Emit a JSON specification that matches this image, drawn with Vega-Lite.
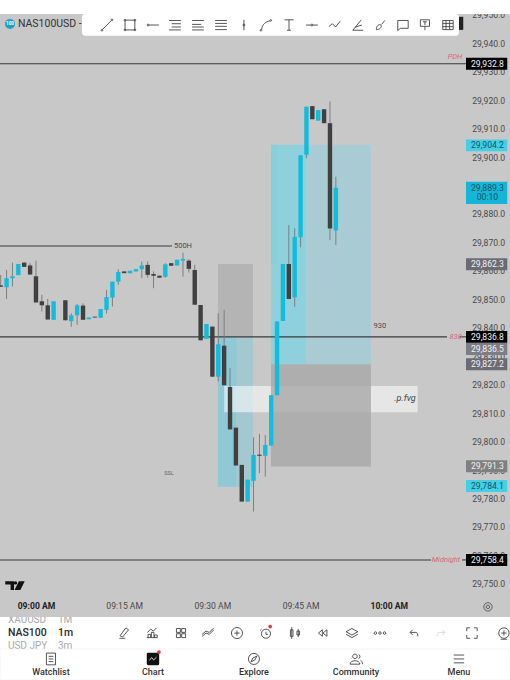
{"$schema":"https://vega.github.io/schema/vega-lite/v6.json","width":510,"height":680,"padding":0,"autosize":{"type":"none"},"background":"#c8c8c8","config":{"view":{"stroke":null},"font":"Roboto"},
"datasets":{
"zones":[
{"x":"2024-01-02T09:30:57","x2":"2024-01-02T09:36:54","y":29862.4,"y2":29836.8,"k":"gray"},
{"x":"2024-01-02T09:30:57","x2":"2024-01-02T09:34:01","y":29836.8,"y2":29784.1,"k":"tealL"},
{"x":"2024-01-02T09:34:01","x2":"2024-01-02T09:36:54","y":29836.8,"y2":29784.1,"k":"tealR"},
{"x":"2024-01-02T09:39:58","x2":"2024-01-02T09:45:55","y":29904.3,"y2":29827.2,"k":"tealB"},
{"x":"2024-01-02T09:39:58","x2":"2024-01-02T09:40:59","y":29904.3,"y2":29862.4,"k":"tealD"},
{"x":"2024-01-02T09:45:55","x2":"2024-01-02T09:56:58","y":29904.3,"y2":29827.2,"k":"tealR2"}],
"band":[{"x":"2024-01-02T09:32:01","x2":"2024-01-02T10:04:55","y":29819.5,"y2":29810.3}],
"block":[{"x":"2024-01-02T09:39:58","x2":"2024-01-02T09:56:58","y":29827.2,"y2":29791.2}],
"lines":[
{"x":"2024-01-02T08:53:53","x2":"2024-01-02T10:13:08","y":29932.8},
{"x":"2024-01-02T08:53:53","x2":"2024-01-02T10:09:54","y":29836.8},
{"x":"2024-01-02T10:12:00","x2":"2024-01-02T10:13:08","y":29836.8},
{"x":"2024-01-02T08:53:53","x2":"2024-01-02T10:07:11","y":29758.4},
{"x":"2024-01-02T10:12:27","x2":"2024-01-02T10:13:08","y":29758.4},
{"x":"2024-01-02T08:53:53","x2":"2024-01-02T09:23:08","y":29868.75}],
"candles":[
{"x":"2024-01-02T08:54:00","o":29854.9,"c":29854.4,"h":29858.6,"l":29854.4},
{"x":"2024-01-02T08:55:00","o":29854.2,"c":29857.4,"h":29860.3,"l":29850.1},
{"x":"2024-01-02T08:56:00","o":29857.4,"c":29858.1,"h":29862.9,"l":29854.5},
{"x":"2024-01-02T08:57:00","o":29858.5,"c":29862.4,"h":29862.4,"l":29858.5},
{"x":"2024-01-02T08:58:00","o":29862.9,"c":29861.4,"h":29862.9,"l":29861.4},
{"x":"2024-01-02T08:59:00","o":29861.9,"c":29858.7,"h":29862.7,"l":29858.7},
{"x":"2024-01-02T09:00:00","o":29858.1,"c":29848.9,"h":29863.6,"l":29848.9},
{"x":"2024-01-02T09:01:00","o":29849.3,"c":29847.9,"h":29851.6,"l":29845.7},
{"x":"2024-01-02T09:02:00","o":29847.9,"c":29842.9,"h":29850.1,"l":29842.9},
{"x":"2024-01-02T09:03:00","o":29842.8,"c":29849.3,"h":29849.3,"l":29842.8},
{"x":"2024-01-02T09:05:00","o":29849.7,"c":29842.6,"h":29849.7,"l":29842.6},
{"x":"2024-01-02T09:06:00","o":29842.3,"c":29844.4,"h":29845.1,"l":29840.3},
{"x":"2024-01-02T09:07:00","o":29844.4,"c":29847.9,"h":29848.4,"l":29841.0},
{"x":"2024-01-02T09:08:00","o":29847.8,"c":29842.8,"h":29848.6,"l":29842.8},
{"x":"2024-01-02T09:09:00","o":29843.0,"c":29843.6,"h":29843.6,"l":29843.0},
{"x":"2024-01-02T09:10:00","o":29843.9,"c":29843.6,"h":29843.9,"l":29843.6},
{"x":"2024-01-02T09:11:00","o":29843.5,"c":29846.6,"h":29846.6,"l":29843.5},
{"x":"2024-01-02T09:12:00","o":29846.3,"c":29850.8,"h":29853.3,"l":29845.0},
{"x":"2024-01-02T09:13:00","o":29850.6,"c":29856.2,"h":29856.2,"l":29847.5},
{"x":"2024-01-02T09:14:00","o":29856.2,"c":29859.6,"h":29860.6,"l":29855.1},
{"x":"2024-01-02T09:15:00","o":29859.8,"c":29859.2,"h":29859.8,"l":29859.2},
{"x":"2024-01-02T09:16:00","o":29859.2,"c":29860.0,"h":29860.0,"l":29859.2},
{"x":"2024-01-02T09:17:00","o":29859.8,"c":29860.6,"h":29860.6,"l":29859.8},
{"x":"2024-01-02T09:18:00","o":29860.6,"c":29861.9,"h":29863.3,"l":29857.4},
{"x":"2024-01-02T09:19:00","o":29862.1,"c":29858.6,"h":29863.3,"l":29857.6},
{"x":"2024-01-02T09:20:00","o":29858.9,"c":29858.3,"h":29859.8,"l":29853.9},
{"x":"2024-01-02T09:21:00","o":29858.3,"c":29857.6,"h":29858.3,"l":29857.6},
{"x":"2024-01-02T09:22:00","o":29857.9,"c":29862.3,"h":29862.7,"l":29857.6},
{"x":"2024-01-02T09:23:00","o":29862.7,"c":29861.8,"h":29862.7,"l":29861.8},
{"x":"2024-01-02T09:24:00","o":29861.9,"c":29863.9,"h":29863.9,"l":29861.9},
{"x":"2024-01-02T09:25:00","o":29863.6,"c":29864.2,"h":29866.4,"l":29858.0},
{"x":"2024-01-02T09:26:00","o":29863.6,"c":29860.7,"h":29864.1,"l":29859.4},
{"x":"2024-01-02T09:27:00","o":29860.3,"c":29848.1,"h":29862.1,"l":29848.1},
{"x":"2024-01-02T09:28:00","o":29848.0,"c":29835.6,"h":29848.0,"l":29835.6},
{"x":"2024-01-02T09:29:00","o":29836.1,"c":29841.3,"h":29841.3,"l":29836.1},
{"x":"2024-01-02T09:30:00","o":29840.4,"c":29822.8,"h":29840.4,"l":29822.8},
{"x":"2024-01-02T09:31:00","o":29822.8,"c":29834.2,"h":29845.1,"l":29821.1},
{"x":"2024-01-02T09:32:00","o":29833.7,"c":29819.8,"h":29846.3,"l":29819.8},
{"x":"2024-01-02T09:33:00","o":29819.2,"c":29804.3,"h":29825.8,"l":29804.1},
{"x":"2024-01-02T09:34:00","o":29804.9,"c":29791.6,"h":29804.9,"l":29791.6},
{"x":"2024-01-02T09:35:00","o":29791.8,"c":29778.9,"h":29791.8,"l":29778.9},
{"x":"2024-01-02T09:36:00","o":29778.9,"c":29786.6,"h":29786.6,"l":29778.9},
{"x":"2024-01-02T09:37:00","o":29786.2,"c":29795.3,"h":29801.5,"l":29775.4},
{"x":"2024-01-02T09:38:00","o":29795.4,"c":29795.0,"h":29802.7,"l":29788.9},
{"x":"2024-01-02T09:39:00","o":29795.0,"c":29798.8,"h":29802.3,"l":29787.7},
{"x":"2024-01-02T09:40:00","o":29798.6,"c":29816.3,"h":29816.3,"l":29798.6},
{"x":"2024-01-02T09:41:00","o":29816.3,"c":29842.2,"h":29842.2,"l":29816.3},
{"x":"2024-01-02T09:42:00","o":29842.4,"c":29862.4,"h":29862.4,"l":29842.4},
{"x":"2024-01-02T09:43:00","o":29862.4,"c":29850.1,"h":29876.1,"l":29850.1},
{"x":"2024-01-02T09:44:00","o":29850.7,"c":29871.9,"h":29875.0,"l":29847.4},
{"x":"2024-01-02T09:45:00","o":29871.8,"c":29900.6,"h":29900.6,"l":29868.3},
{"x":"2024-01-02T09:46:00","o":29900.8,"c":29917.7,"h":29917.7,"l":29899.6},
{"x":"2024-01-02T09:47:00","o":29917.9,"c":29913.3,"h":29917.9,"l":29913.3},
{"x":"2024-01-02T09:48:00","o":29912.8,"c":29916.5,"h":29916.5,"l":29912.8},
{"x":"2024-01-02T09:49:00","o":29916.8,"c":29911.9,"h":29916.8,"l":29911.9},
{"x":"2024-01-02T09:50:00","o":29911.9,"c":29874.9,"h":29919.5,"l":29870.9},
{"x":"2024-01-02T09:51:00","o":29874.2,"c":29889.2,"h":29893.1,"l":29869.1}],
"notes":[
{"x":"2024-01-02T09:25:00","y":29868.75,"t":"500H"},
{"x":"2024-01-02T09:58:30","y":29840.6,"t":"930"}],
"ssl":[{"x":"2024-01-02T09:22:37","y":29789.0,"t":"SSL"}],
"pink":[
{"x":"2024-01-02T10:11:15","y":29935.2,"t":"PDH"},
{"x":"2024-01-02T10:11:22","y":29836.9,"t":"830"},
{"x":"2024-01-02T10:09:44","y":29758.4,"t":"Midnight"}],
"fvg":[{"x":"2024-01-02T10:02:45","y":29815.2,"t":".p.fvg"}],
"boxes":[
{"x":"2024-01-02T10:13:08","x2":"2024-01-02T10:20:09","y":29934.9,"y2":29930.7,"k":"black"},
{"x":"2024-01-02T10:13:08","x2":"2024-01-02T10:20:09","y":29906.2,"y2":29902.0,"k":"teal1"},
{"x":"2024-01-02T10:13:08","x2":"2024-01-02T10:20:09","y":29891.35,"y2":29883.5,"k":"teal2"},
{"x":"2024-01-02T10:13:08","x2":"2024-01-02T10:20:09","y":29864.4,"y2":29860.2,"k":"gray1"},
{"x":"2024-01-02T10:13:08","x2":"2024-01-02T10:20:09","y":29834.65,"y2":29830.45,"k":"gray2"},
{"x":"2024-01-02T10:13:08","x2":"2024-01-02T10:20:09","y":29829.3,"y2":29825.1,"k":"gray1"},
{"x":"2024-01-02T10:13:08","x2":"2024-01-02T10:20:09","y":29793.4,"y2":29789.2,"k":"gray3"},
{"x":"2024-01-02T10:13:08","x2":"2024-01-02T10:20:09","y":29786.5,"y2":29782.3,"k":"teal1"},
{"x":"2024-01-02T10:13:08","x2":"2024-01-02T10:20:09","y":29838.9,"y2":29834.7,"k":"black"},
{"x":"2024-01-02T10:13:08","x2":"2024-01-02T10:20:09","y":29760.5,"y2":29756.3,"k":"black"}],
"boxText":[
{"x":"2024-01-02T10:16:47","y":29932.8,"t":"29,932.8","k":"light"},
{"x":"2024-01-02T10:16:47","y":29904.1,"t":"29,904.2","k":"dark"},
{"x":"2024-01-02T10:16:47","y":29889.0,"t":"29,889.3","k":"dark"},
{"x":"2024-01-02T10:16:47","y":29885.9,"t":"00:10","k":"dark"},
{"x":"2024-01-02T10:16:47","y":29862.3,"t":"29,862.3","k":"light"},
{"x":"2024-01-02T10:16:47","y":29836.8,"t":"29,836.8","k":"light"},
{"x":"2024-01-02T10:16:47","y":29832.55,"t":"29,836.5","k":"light"},
{"x":"2024-01-02T10:16:47","y":29827.2,"t":"29,827.2","k":"light"},
{"x":"2024-01-02T10:16:47","y":29791.3,"t":"29,791.3","k":"light"},
{"x":"2024-01-02T10:16:47","y":29784.4,"t":"29,784.1","k":"dark"},
{"x":"2024-01-02T10:16:47","y":29758.4,"t":"29,758.4","k":"light"}],
"logo":[{"x":"2024-01-02T08:56:26","y":29749.4,"k":"tv"}],
"topUi":[
{"x":"2024-01-02T08:53:53","x2":"2024-01-02T10:20:37","y":29955.2,"y2":29950.3,"k":"white"},
{"x":"2024-01-02T10:11:56","x2":"2024-01-02T10:12:40","y":29949.3,"y2":29944.7,"k":"black"}],
"bottomUi":[
{"x":"2024-01-02T08:53:53","x2":"2024-01-02T10:20:37","y":29738.35,"y2":29716.2,"k":"white"}],
"title":[{"x":"2024-01-02T08:56:56","y":29946.8,"t":"NAS100USD - 1"}],
"badge":[{"x":"2024-01-02T08:55:35","y":29946.8}],
"badgeText":[{"x":"2024-01-02T08:55:35","y":29946.8,"t":"100"}],
"toolbar":[{"x":"2024-01-02T09:07:49","x2":"2024-01-02T10:11:56","y":29950.3,"y2":29942.6}],
"toolIcons":[
{"x":"2024-01-02T09:12:04","y":29946.4,"k":"trend"},
{"x":"2024-01-02T09:15:59","y":29946.4,"k":"rect"},
{"x":"2024-01-02T09:19:54","y":29946.4,"k":"ray"},
{"x":"2024-01-02T09:23:38","y":29946.4,"k":"fib"},
{"x":"2024-01-02T09:27:33","y":29946.4,"k":"fib2"},
{"x":"2024-01-02T09:31:28","y":29946.4,"k":"lines"},
{"x":"2024-01-02T09:35:22","y":29946.4,"k":"vline"},
{"x":"2024-01-02T09:39:07","y":29946.4,"k":"curve"},
{"x":"2024-01-02T09:43:02","y":29946.4,"k":"text"},
{"x":"2024-01-02T09:46:56","y":29946.4,"k":"cross"},
{"x":"2024-01-02T09:50:51","y":29946.4,"k":"zig"},
{"x":"2024-01-02T09:54:46","y":29946.4,"k":"brush"},
{"x":"2024-01-02T09:58:40","y":29946.4,"k":"pen"},
{"x":"2024-01-02T10:02:25","y":29946.4,"k":"comment"},
{"x":"2024-01-02T10:06:09","y":29946.4,"k":"tbox"},
{"x":"2024-01-02T10:10:04","y":29946.4,"k":"grid"},
{"x":"2024-01-02T09:14:58","y":29732.7,"k":"pencil"},
{"x":"2024-01-02T09:19:44","y":29732.7,"k":"bars"},
{"x":"2024-01-02T09:24:40","y":29732.7,"k":"tiles"},
{"x":"2024-01-02T09:29:15","y":29732.7,"k":"waves"},
{"x":"2024-01-02T09:34:11","y":29732.7,"k":"plus"},
{"x":"2024-01-02T09:39:07","y":29732.7,"k":"alarm"},
{"x":"2024-01-02T09:44:03","y":29732.7,"k":"candle"},
{"x":"2024-01-02T09:48:49","y":29732.7,"k":"rewind"},
{"x":"2024-01-02T09:53:44","y":29732.7,"k":"layers"},
{"x":"2024-01-02T09:58:30","y":29732.7,"k":"dots"},
{"x":"2024-01-02T10:04:17","y":29732.7,"k":"undo"},
{"x":"2024-01-02T10:14:09","y":29732.7,"k":"full"},
{"x":"2024-01-02T10:19:35","y":29732.7,"k":"bulb"},
{"x":"2024-01-02T09:02:33","y":29723.6,"k":"list"},
{"x":"2024-01-02T09:37:04","y":29723.6,"k":"compass"},
{"x":"2024-01-02T09:54:25","y":29723.6,"k":"people"},
{"x":"2024-01-02T10:11:56","y":29723.6,"k":"menu"}],
"faintIcons":[{"x":"2024-01-02T10:08:53","y":29732.7,"k":"redo"}],
"settings":[{"x":"2024-01-02T10:16:52","y":29741.9}],
"chartIcon":[{"x":"2024-01-02T09:19:54","y":29723.6,"k":"tile"}],
"chartWave":[{"x":"2024-01-02T09:19:54","y":29723.6,"k":"wave"}],
"redDots":[{"x":"2024-01-02T09:20:55","y":29726.0},{"x":"2024-01-02T09:39:50","y":29735.0}],
"symbols":[{"x":"2024-01-02T08:55:14","y":29732.7,"t":"NAS100"},{"x":"2024-01-02T09:03:44","y":29732.7,"t":"1m"}],
"symbolsFaint":[{"x":"2024-01-02T08:55:14","y":29737.3,"t":"XAUUSD"},{"x":"2024-01-02T09:03:44","y":29737.3,"t":"1M"},{"x":"2024-01-02T08:55:14","y":29728.2,"t":"USD JPY"},{"x":"2024-01-02T09:03:44","y":29728.2,"t":"3m"}],
"mask":[{"x":"2024-01-02T08:53:53","x2":"2024-01-02T09:10:00","y":29739.9,"y2":29738.35}],
"nav":[{"x":"2024-01-02T08:53:53","x2":"2024-01-02T10:20:37","y":29727.1,"y2":29716.2}],
"navText":[
{"x":"2024-01-02T09:02:33","y":29719.1,"t":"Watchlist"},
{"x":"2024-01-02T09:19:54","y":29719.1,"t":"Chart"},
{"x":"2024-01-02T09:37:04","y":29719.1,"t":"Explore"},
{"x":"2024-01-02T09:54:25","y":29719.1,"t":"Community"},
{"x":"2024-01-02T10:11:56","y":29719.1,"t":"Menu"}]
},
"encoding":{
"x":{"field":"x","type":"temporal","scale":{"padding":0,"nice":false,"domain":[{"year":2024,"month":1,"date":2,"hours":8,"minutes":53,"seconds":53},{"year":2024,"month":1,"date":2,"hours":10,"minutes":20,"seconds":37}]},
"axis":{"orient":"bottom","offset":-79,"values":[{"year":2024,"month":1,"date":2,"hours":9,"minutes":0},{"year":2024,"month":1,"date":2,"hours":9,"minutes":15},{"year":2024,"month":1,"date":2,"hours":9,"minutes":30},{"year":2024,"month":1,"date":2,"hours":9,"minutes":45},{"year":2024,"month":1,"date":2,"hours":10,"minutes":0}],"format":"%I:%M %p","title":null,"grid":false,"domain":false,"ticks":false,"labelPadding":0,"labelFont":"Roboto","labelFontSize":8.6,"labelColor":{"expr":"minutes(datum.value)==0?'#222222':'#4a4a4a'"},"labelFontWeight":{"expr":"minutes(datum.value)==0?'bold':'normal'"},"labelOverlap":false,"labelFlush":false,"labelBound":false,"zindex":0}},
"y":{"field":"y","type":"quantitative","scale":{"domain":[29716.2,29955.2],"zero":false,"nice":false},
"axis":{"orient":"right","offset":-38.3,"values":[29750,29760,29770,29780,29790,29800,29810,29820,29830,29840,29850,29860,29870,29880,29890,29900,29910,29920,29930,29940,29950],"format":",.1f","title":null,"grid":false,"domain":false,"ticks":false,"labelPadding":0,"labelFont":"Roboto","labelFontSize":8.6,"labelColor":"#4a4a4a","labelAlign":"left","labelOverlap":false,"labelFlush":false,"labelBound":false,"zindex":0}}
},
"resolve":{"scale":{"color":"independent","shape":"independent"}},
"layer":[
{"data":{"name":"zones"},"mark":{"type":"rect"},"encoding":{"x2":{"field":"x2"},"y2":{"field":"y2"},"color":{"field":"k","type":"nominal","legend":null,"scale":{"domain":["gray","tealL","tealR","tealB","tealD","tealR2"],"range":["#b4b4b4","#8ec9d5","#a4c8cf","#8fd0dd","#86cfdd","#a9ccd4"]}}}},
{"data":{"name":"band"},"mark":{"type":"rect","color":"#ffffff","opacity":0.55},"encoding":{"x2":{"field":"x2"},"y2":{"field":"y2"}}},
{"data":{"name":"block"},"mark":{"type":"rect","color":"#a6a6a6","opacity":0.78},"encoding":{"x2":{"field":"x2"},"y2":{"field":"y2"}}},
{"data":{"name":"lines"},"mark":{"type":"rule","color":"#3a3a3a","strokeWidth":1.1},"encoding":{"x2":{"field":"x2"}}},
{"data":{"name":"candles"},"mark":{"type":"rule","color":"#777777","strokeWidth":0.9},"encoding":{"y":{"field":"l","type":"quantitative","scale":{"domain":[29716.2,29955.2],"zero":false,"nice":false}},"y2":{"field":"h"}}},
{"data":{"name":"candles"},"mark":{"type":"bar","size":4.4,"orient":"vertical"},"encoding":{"y":{"field":"o","type":"quantitative","scale":{"domain":[29716.2,29955.2],"zero":false,"nice":false}},"y2":{"field":"c"},"color":{"condition":{"test":"datum.c>=datum.o","value":"#12bcdc"},"value":"#404040"}}},
{"data":{"name":"notes"},"mark":{"type":"text","font":"Roboto","fontSize":7.5,"color":"#4a4a4a"},"encoding":{"text":{"field":"t"}}},
{"data":{"name":"ssl"},"mark":{"type":"text","font":"Roboto","fontSize":5.5,"color":"#666666"},"encoding":{"text":{"field":"t"}}},
{"data":{"name":"pink"},"mark":{"type":"text","font":"Roboto","fontSize":7.5,"fontStyle":"italic","color":"#e0607a"},"encoding":{"text":{"field":"t"}}},
{"data":{"name":"fvg"},"mark":{"type":"text","font":"Roboto","fontSize":9,"fontStyle":"italic","color":"#444444"},"encoding":{"text":{"field":"t"}}},
{"data":{"name":"boxes"},"mark":{"type":"rect"},"encoding":{"x2":{"field":"x2"},"y2":{"field":"y2"},"color":{"field":"k","type":"nominal","legend":null,"scale":{"domain":["black","teal1","teal2","gray1","gray2","gray3"],"range":["#000000","#45cfe6","#14b6d8","#6b6b76","#7d7d88","#808080"]}}}},
{"data":{"name":"boxText"},"mark":{"type":"text","font":"Roboto","fontSize":8.6},"encoding":{"text":{"field":"t"},"color":{"field":"k","type":"nominal","legend":null,"scale":{"domain":["light","dark"],"range":["#f2f2f2","#0d5566"]}}}},
{"data":{"name":"logo"},"mark":{"type":"point","filled":true,"size":380,"opacity":1,"color":"#111111"},"encoding":{"shape":{"field":"k","type":"nominal","legend":null,"scale":{"domain":["tv"],"range":["M-1,-.45H-.1V.45H-.45V-.1H-1ZM.22,-.27A.17,.17 0 1,1 -.12,-.27A.17,.17 0 1,1 .22,-.27ZM.4,-.45H1L.55,.45H-.05Z"]}}}},
{"data":{"name":"topUi"},"mark":{"type":"rect"},"encoding":{"x2":{"field":"x2"},"y2":{"field":"y2"},"color":{"field":"k","type":"nominal","legend":null,"scale":{"domain":["white","black"],"range":["#ffffff","#222222"]}}}},
{"data":{"name":"title"},"mark":{"type":"text","font":"Roboto","fontSize":10.5,"align":"left","color":"#333333"},"encoding":{"text":{"field":"t"}}},
{"data":{"name":"badge"},"mark":{"type":"circle","size":100,"color":"#1f9fc4","opacity":1}},
{"data":{"name":"badgeText"},"mark":{"type":"text","font":"Roboto","fontSize":4.5,"fontWeight":"bold","color":"#ffffff"},"encoding":{"text":{"field":"t"}}},
{"data":{"name":"toolbar"},"mark":{"type":"rect","color":"#ffffff","cornerRadius":3},"encoding":{"x2":{"field":"x2"},"y2":{"field":"y2"}}},
{"data":{"name":"bottomUi"},"mark":{"type":"rect","color":"#ffffff"},"encoding":{"x2":{"field":"x2"},"y2":{"field":"y2"}}},
{"data":{"name":"symbolsFaint"},"mark":{"type":"text","font":"Roboto","fontSize":10,"align":"left","color":"#a8a8a8"},"encoding":{"text":{"field":"t"}}},
{"data":{"name":"mask"},"mark":{"type":"rect","color":"#c8c8c8"},"encoding":{"x2":{"field":"x2"},"y2":{"field":"y2"}}},
{"data":{"name":"nav"},"mark":{"type":"rect","color":"#ffffff","stroke":"#efefef","strokeWidth":0.6},"encoding":{"x2":{"field":"x2"},"y2":{"field":"y2"}}},
{"data":{"name":"symbols"},"mark":{"type":"text","font":"Roboto","fontSize":10.5,"fontWeight":500,"align":"left","color":"#2a2a2a"},"encoding":{"text":{"field":"t"}}},
{"data":{"name":"navText"},"mark":{"type":"text","font":"Roboto","fontSize":9,"fontWeight":500,"color":"#333333"},"encoding":{"text":{"field":"t"}}},
{"data":{"name":"toolIcons"},"mark":{"type":"point","filled":false,"size":170,"strokeWidth":0.9,"opacity":1,"color":"#444444"},"encoding":{"shape":{"field":"k","type":"nominal","legend":null,"scale":{
"domain":["trend","rect","ray","fib","fib2","lines","vline","curve","text","cross","zig","brush","pen","comment","tbox","grid","pencil","bars","tiles","waves","plus","alarm","candle","rewind","layers","dots","undo","full","bulb","list","compass","people","menu"],
"range":[
"M-.7,.7L.7,-.7M-.9,.8A.13,.13 0 1,1 -.64,.8A.13,.13 0 1,1 -.9,.8M.64,-.8A.13,.13 0 1,1 .9,-.8A.13,.13 0 1,1 .64,-.8",
"M-.75,-.75H.75V.75H-.75ZM-.9,-.75A.13,.13 0 1,1 -.64,-.75A.13,.13 0 1,1 -.9,-.75M.64,-.75A.13,.13 0 1,1 .9,-.75A.13,.13 0 1,1 .64,-.75M-.9,.75A.13,.13 0 1,1 -.64,.75A.13,.13 0 1,1 -.9,.75M.64,.75A.13,.13 0 1,1 .9,.75A.13,.13 0 1,1 .64,.75",
"M-.9,0A.15,.15 0 1,1 -.6,0A.15,.15 0 1,1 -.9,0M-.6,0H.9",
"M-.9,-.7H.9M-.5,-.2H.9M-.5,.3H.9M-.9,.75H.9",
"M-.9,-.7H.9M-.9,-.1H.5M-.9,.3H.9M-.9,.75H.9",
"M-.9,-.7H.9M-.9,-.25H.9M-.9,.2H.9M-.9,.7H.9",
"M0,-.8V.8M-.15,0A.15,.15 0 1,1 .15,0A.15,.15 0 1,1 -.15,0",
"M-.65,.7C-.65,-.1 0,-.5 .6,-.65M-.9,.8A.13,.13 0 1,1 -.64,.8A.13,.13 0 1,1 -.9,.8M.6,-.7A.13,.13 0 1,1 .86,-.7A.13,.13 0 1,1 .6,-.7",
"M-.7,-.8H.7M0,-.8V.8M-.3,.8H.3",
"M-.9,0H-.15M.15,0H.9M-.15,0A.15,.15 0 1,1 .15,0A.15,.15 0 1,1 -.15,0",
"M-.9,.2L-.4,-.2L.1,.3L.8,-.6",
"M-.8,.8L.5,-.8M-.8,.8H.8M-.4,.3L.6,0",
"M-.7,.7C-.7,.1 -.3,-.2 0,0C.2,.3 -.2,.7 -.7,.7ZM.1,-.1L.6,-.7",
"M-.8,-.7H.8V.5H-.4L-.8,.85Z",
"M-.7,-.8H.7V.2H-.7ZM-.3,-.5H.3M0,-.5V0M0,.2V.8",
"M-.8,-.7H.8V.7H-.8ZM-.8,-.25H.8M-.8,.25H.8M-.3,-.7V.7M.25,-.7V.7",
"M-.7,.8H.2M-.6,.4L.3,-.8L.7,-.5L-.2,.6Z",
"M-.8,.7H.8M-.6,.7V.2H-.2V.7M-.1,.7V-.1H.3V.7M.4,.7V.3H.8V.7M-.7,-.1L-.2,-.6L.2,-.3L.7,-.8",
"M-.7,-.7H-.1V-.1H-.7ZM.1,-.7H.7V-.1H.1ZM-.7,.1H-.1V.7H-.7ZM.1,.1H.7V.7H.1Z",
"M-.9,.5L-.3,0L.2,.2L.9,-.5M-.9,.2L-.3,-.3L.2,-.1L.9,-.8",
"M-.85,0A.85,.85 0 1,1 .85,0A.85,.85 0 1,1 -.85,0M-.4,0H.4M0,-.4V.4",
"M-.7,.1A.7,.7 0 1,1 .7,.1A.7,.7 0 1,1 -.7,.1M0,-.2V.2H.3M-.7,-.6L-.9,-.4",
"M-.5,-.9V.9M-.7,-.5H-.3V.5H-.7ZM.5,-.6V.6M.3,-.3H.7V.3H.3Z",
"M-.1,-.5L-.7,0L-.1,.5ZM.6,-.5L0,0L.6,.5Z",
"M0,-.7L.9,-.2L0,.3L-.9,-.2ZM-.9,.2L0,.7L.9,.2",
"M-.9,0A.2,.2 0 1,1 -.5,0A.2,.2 0 1,1 -.9,0M-.2,0A.2,.2 0 1,1 .2,0A.2,.2 0 1,1 -.2,0M.5,0A.2,.2 0 1,1 .9,0A.2,.2 0 1,1 .5,0",
"M-.6,-.1L-.2,-.5M-.6,-.1L-.2,.3M-.6,-.1H.3C.5,-.1 .6,.1 .6,.5",
"M-.8,-.3V-.8H-.3M.3,-.8H.8V-.3M.8,.3V.8H.3M-.3,.8H-.8V.3",
"M-.8,0A.8,.8 0 1,1 .8,0A.8,.8 0 1,1 -.8,0M-.4,0H.4M0,-.4V.4M-.5,.95H.5",
"M-.7,-.9H.7V.9H-.7ZM-.35,-.4H.35M-.35,0H.35M-.35,.4H.35",
"M-.85,0A.85,.85 0 1,1 .85,0A.85,.85 0 1,1 -.85,0M.45,-.45L-.15,-.15L-.45,.45L.15,.15Z",
"M-.5,-.4A.35,.35 0 1,1 .2,-.4A.35,.35 0 1,1 -.5,-.4M-.9,.8C-.9,.1 .6,.1 .6,.8ZM.4,-.7A.35,.35 0 0,1 .4,-.05M.7,.2C.9,.3 1,.5 1,.8",
"M-.8,-.6H.8M-.8,0H.8M-.8,.6H.8"]}}}},
{"data":{"name":"faintIcons"},"mark":{"type":"point","filled":false,"size":170,"strokeWidth":0.9,"opacity":1,"color":"#d8d8d8"},"encoding":{"shape":{"field":"k","type":"nominal","legend":null,"scale":{"domain":["redo"],"range":["M.6,-.1L.2,-.5M.6,-.1L.2,.3M.6,-.1H-.3C-.5,-.1 -.6,.1 -.6,.5"]}}}},
{"data":{"name":"settings"},"mark":{"type":"point","shape":"circle","filled":false,"size":70,"strokeWidth":0.8,"opacity":1,"color":"#444444"}},
{"data":{"name":"settings"},"mark":{"type":"point","shape":"circle","filled":false,"size":12,"strokeWidth":0.8,"opacity":1,"color":"#444444"}},
{"data":{"name":"chartIcon"},"mark":{"type":"point","filled":true,"size":190,"opacity":1,"color":"#111111"},"encoding":{"shape":{"field":"k","type":"nominal","legend":null,"scale":{"domain":["tile"],"range":["M-.7,-.9H.7Q.9,-.9 .9,-.7V.7Q.9,.9 .7,.9H-.7Q-.9,.9 -.9,.7V-.7Q-.9,-.9 -.7,-.9Z"]}}}},
{"data":{"name":"chartWave"},"mark":{"type":"point","filled":false,"size":190,"strokeWidth":0.8,"opacity":1,"color":"#ffffff"},"encoding":{"shape":{"field":"k","type":"nominal","legend":null,"scale":{"domain":["wave"],"range":["M-.5,.2L-.2,-.2L.1,.15L.5,-.25"]}}}},
{"data":{"name":"redDots"},"mark":{"type":"circle","size":14,"opacity":1,"color":"#e5383b"}}
]}
